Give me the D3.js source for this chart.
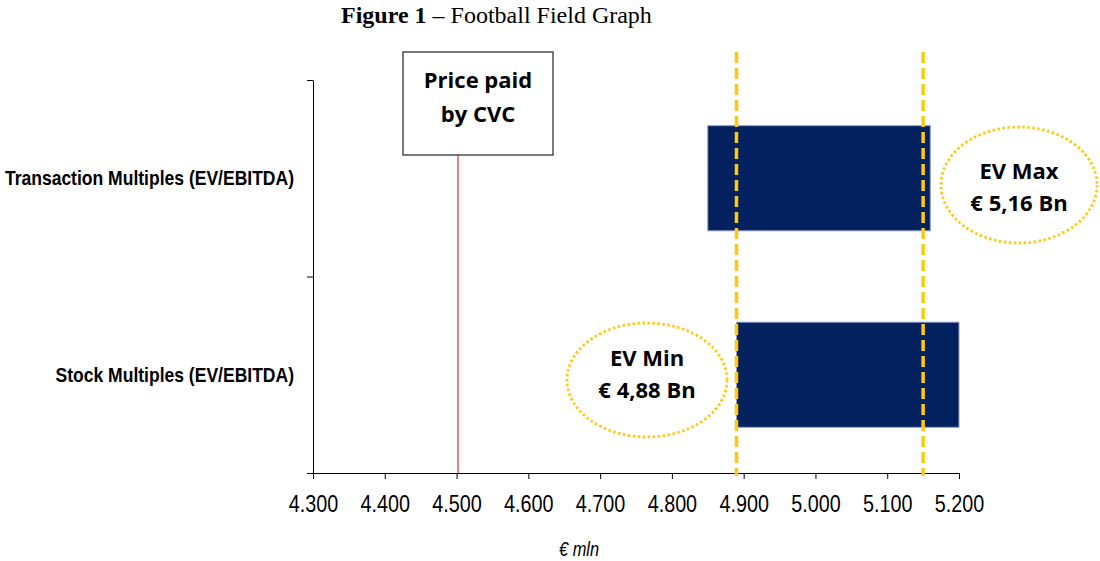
<!DOCTYPE html>
<html>
<head>
<meta charset="utf-8">
<script src="https://cdn.jsdelivr.net/npm/d3@7"></script>
<style>
  html, body { margin: 0; padding: 0; background: #fff; }
  svg { display: block; }
</style>
</head>
<body>
<svg id="chart" width="1100" height="561"></svg>
<script>
// ---- Data ----
const categories = ["Transaction Multiples (EV/EBITDA)", "Stock Multiples (EV/EBITDA)"];
const rangeLow  = [4850, 4890];
const rangeHigh = [5160, 5200];
const xTicks = [4300, 4400, 4500, 4600, 4700, 4800, 4900, 5000, 5100, 5200];
const xTickLabels = ["4.300", "4.400", "4.500", "4.600", "4.700", "4.800", "4.900", "5.000", "5.100", "5.200"];
const pricePaid = 4502;
const evMin = 4890;
const evMax = 5150;
const titleBold = "Figure 1";
const titleRest = " \u2013 Football Field Graph";
const xAxisTitle = "\u20AC mln";
const priceLabel = ["Price paid", "by CVC"];
const evMinLabel = ["EV Min", "\u20AC 4,88 Bn"];
const evMaxLabel = ["EV Max", "\u20AC 5,16 Bn"];

// ---- Layout ----
const svg = d3.select("#chart");
const plot = { left: 313, right: 959, top: 80, bottom: 473 };

const x = d3.scaleLinear().domain([4300, 5200]).range([plot.left, plot.right]);
const y = d3.scaleBand().domain(categories).range([plot.top, plot.bottom]).padding(0);
const yBound = d3.scaleLinear().domain([0, categories.length]).range([plot.bottom, plot.top]);

const navy = "#03205f";
const gold = "#ffc90e";
const sans = "'Liberation Sans', Arial, sans-serif";
const calibriLike = "'Open Sans', 'Noto Sans', sans-serif";

// Title
const title = svg.append("text")
  .attr("x", 341).attr("y", 23)
  .attr("font-family", "'Liberation Serif', 'Times New Roman', serif")
  .attr("font-size", 24).attr("fill", "#000");
title.append("tspan").attr("font-weight", "bold").text(titleBold);
title.append("tspan").text(titleRest);

// Bars
const barH = y.bandwidth() * 0.535;
svg.append("g").selectAll("rect")
  .data(categories)
  .join("rect")
  .attr("x", (d, i) => x(rangeLow[i]))
  .attr("width", (d, i) => x(rangeHigh[i]) - x(rangeLow[i]))
  .attr("y", d => y(d) + (y.bandwidth() - barH) / 2)
  .attr("height", barH)
  .attr("fill", navy)
  .attr("stroke", "#8ea0c4")
  .attr("stroke-width", 1);

// Y axis (ticks at band boundaries)
const yAxis = svg.append("g")
  .attr("transform", `translate(${plot.left},0)`)
  .call(d3.axisLeft(yBound).tickValues(d3.range(categories.length + 1)).tickFormat("").tickSize(6).tickSizeOuter(0));
yAxis.select(".domain").attr("stroke", "#000");
yAxis.selectAll(".tick line").attr("stroke", "#000");

// Category labels (condensed)
svg.append("g").selectAll("text")
  .data(categories)
  .join("text")
  .attr("transform", d => `translate(294,${y(d) + y.bandwidth() / 2 + 7}) scale(0.835,1)`)
  .attr("text-anchor", "end")
  .attr("font-family", sans)
  .attr("font-weight", "bold")
  .attr("font-size", 21)
  .attr("fill", "#000")
  .text(d => d);

// X axis
const xAxis = svg.append("g")
  .attr("transform", `translate(0,${plot.bottom})`)
  .call(d3.axisBottom(x).tickValues(xTicks).tickFormat((d, i) => xTickLabels[i]).tickSize(6).tickSizeOuter(0));
xAxis.select(".domain").attr("stroke", "#000");
xAxis.selectAll(".tick line").attr("stroke", "#000");
xAxis.selectAll(".tick text")
  .attr("font-family", sans)
  .attr("font-size", 23)
  .attr("fill", "#000")
  .attr("dy", null)
  .attr("y", 39)
  .attr("transform", "scale(0.86,1)");

// X axis title
svg.append("text")
  .attr("transform", "translate(579,556) scale(0.82,1)")
  .attr("text-anchor", "middle")
  .attr("font-family", sans)
  .attr("font-style", "italic")
  .attr("font-size", 20)
  .attr("fill", "#000")
  .text(xAxisTitle);

// Price paid line + box
const boxTop = 52, boxBottom = 155;
svg.append("line")
  .attr("x1", x(pricePaid)).attr("x2", x(pricePaid))
  .attr("y1", boxBottom).attr("y2", plot.bottom)
  .attr("stroke", "#ee1111").attr("stroke-width", 1.1);
svg.append("rect")
  .attr("x", 403).attr("y", boxTop).attr("width", 150).attr("height", boxBottom - boxTop)
  .attr("fill", "#fff").attr("stroke", "#222").attr("stroke-width", 1.2);
svg.append("g").selectAll("text")
  .data(priceLabel)
  .join("text")
  .attr("x", 478).attr("y", (d, i) => 88 + i * 34)
  .attr("text-anchor", "middle")
  .attr("font-family", calibriLike)
  .attr("font-weight", "bold")
  .attr("font-size", 22)
  .attr("fill", "#000")
  .text(d => d);

// EV dashed lines
svg.append("g").selectAll("line")
  .data([evMin, evMax])
  .join("line")
  .attr("x1", d => x(d)).attr("x2", d => x(d))
  .attr("y1", 52).attr("y2", 476)
  .attr("stroke", gold)
  .attr("stroke-width", 3.5)
  .attr("stroke-dasharray", "11 5");

// Dotted ellipses with labels
const callouts = [
  { cx: 647, cy: 380, rx: 80, ry: 57, lines: evMinLabel, base: 366 },
  { cx: 1019, cy: 185, rx: 78, ry: 58, lines: evMaxLabel, base: 179 }
];
callouts.forEach(c => {
  svg.append("ellipse")
    .attr("cx", c.cx).attr("cy", c.cy).attr("rx", c.rx).attr("ry", c.ry)
    .attr("fill", "#fff")
    .attr("stroke", gold)
    .attr("stroke-width", 2.8)
    .attr("stroke-dasharray", "2.5 2.5");
  svg.append("g").selectAll("text")
    .data(c.lines)
    .join("text")
    .attr("x", c.cx).attr("y", (d, i) => c.base + i * 32)
    .attr("text-anchor", "middle")
    .attr("font-family", calibriLike)
    .attr("font-weight", "bold")
    .attr("font-size", 22)
    .attr("fill", "#000")
    .text(d => d);
});
</script>
</body>
</html>
